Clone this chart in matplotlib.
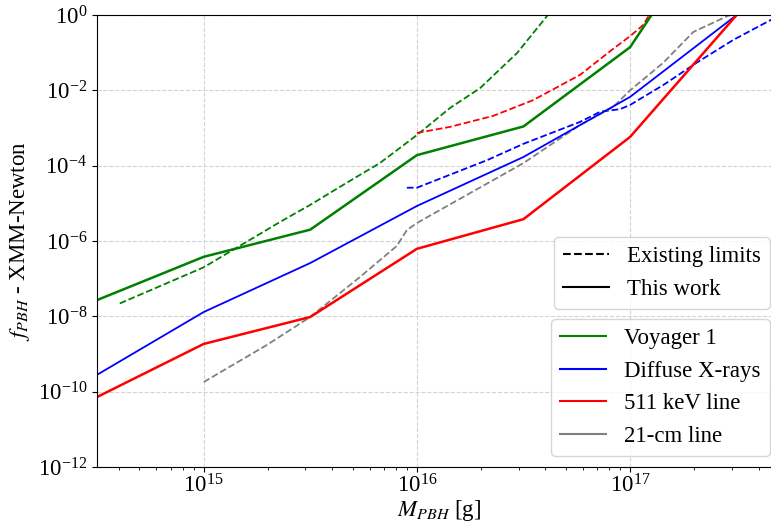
import matplotlib
matplotlib.use("Agg")
import matplotlib.pyplot as plt
from matplotlib.lines import Line2D
import numpy as np

plt.rcParams['font.family'] = ['Liberation Serif', 'DejaVu Serif']
plt.rcParams['mathtext.fontset'] = 'stix'

# This work (solid lines)
M_work = [3.16e14, 1.0e15, 3.16e15, 1.0e16, 3.16e16, 1.0e17, 3.16e17]
f_voyager = [2.7e-8, 3.8e-7, 2.0e-6, 1.9e-4, 1.1e-3, 0.14, 2.5e3]
f_xray = [2.8e-10, 1.3e-8, 2.6e-7, 8.5e-6, 1.7e-4, 6.7e-3, 1.0]
f_511 = [7.2e-11, 1.85e-9, 9.6e-9, 6.2e-7, 3.8e-6, 5.8e-4, 1.0]

# Existing limits (dashed lines)
M_voyager_old = [4.04e14, 1.0e15, 2.28e15, 3.16e15, 4.68e15, 6.70e15, 1.0e16,
                 1.43e16, 1.98e16, 2.95e16, 4.07e16, 5.0e16]
f_voyager_old = [2.2e-8, 2.0e-7, 3.2e-6, 9.1e-6, 3.5e-5, 1.17e-4, 6.5e-4,
                 3.4e-3, 1.15e-2, 9.8e-2, 0.93, 4.5]

M_511_old = [1.0e16, 1.43e16, 2.28e16, 3.51e16, 5.82e16, 8.32e16, 1.0e17,
             1.15e17, 1.22e17]
f_511_old = [7.4e-4, 1.07e-3, 2.1e-3, 5.5e-3, 2.57e-2, 0.126, 0.275, 0.54, 0.93]

M_xray_old = [8.97e15, 1.0e16, 2.14e16, 3.16e16, 5.82e16, 7.24e16, 8.97e16,
              1.0e17, 1.43e17, 2.07e17, 3.05e17, 4.57e17, 5.1e17]
f_xray_old = [2.6e-5, 2.6e-5, 1.41e-4, 3.8e-4, 1.45e-3, 2.7e-3, 3.16e-3,
              4.1e-3, 1.38e-2, 5.6e-2, 0.219, 0.74, 0.98]

M_21cm = [1.0e15, 1.98e15, 3.15e15, 5.40e15, 8.05e15, 8.97e15, 1.0e16,
          1.28e16, 3.16e16, 5.82e16, 8.32e16, 1.0e17, 1.43e17, 1.98e17,
          2.85e17, 3.16e17]
f_21cm = [1.8e-10, 1.74e-9, 9.5e-9, 1.1e-7, 7.4e-7, 1.95e-6, 3.0e-6,
          6.6e-6, 1.17e-4, 1.2e-3, 3.6e-3, 1.0e-2, 5.4e-2, 0.355, 0.93, 1.12]

xlim = (3.16e14, 5.1e17)
ylim = (1e-12, 1.0)
yticks = [1e-12, 1e-10, 1e-8, 1e-6, 1e-4, 1e-2, 1.0]

W, H = 771, 525
fig = plt.figure(figsize=(W / 100, H / 100), dpi=100)
ax = fig.add_axes([97 / W, (H - 467) / H, (781 - 97) / W, (467 - 15) / H])

ax.plot(M_voyager_old, f_voyager_old, color='green', ls='--', lw=1.3)
ax.plot(M_511_old, f_511_old, color='red', ls='--', lw=1.3)
ax.plot(M_xray_old, f_xray_old, color='blue', ls='--', lw=1.3)
ax.plot(M_21cm, f_21cm, color='gray', ls='--', lw=1.3)

ax.plot(M_work, f_voyager, color='green', lw=1.8)
ax.plot(M_work, f_xray, color='blue', lw=1.3)
ax.plot(M_work, f_511, color='red', lw=1.8)

ax.set_xscale('log')
ax.set_yscale('log')
ax.set_xlim(*xlim)
ax.set_ylim(*ylim)
ax.set_yticks(yticks)
ax.yaxis.set_minor_locator(matplotlib.ticker.NullLocator())
ax.grid(True, which='major', ls='--', color='#d3d3d3', lw=0.8)
ax.tick_params(labelsize=16.5)
ax.tick_params(axis='x', which='major', pad=2)
ax.spines['right'].set_visible(False)

ax.set_xlabel(r'$M_{PBH}$ [g]', fontsize=16.5, labelpad=0)
ax.set_ylabel(r'$f_{PBH}$ - XMM-Newton', fontsize=16.5, labelpad=4)

h1 = [Line2D([], [], color='black', ls='--', lw=1.5),
      Line2D([], [], color='black', lw=1.5)]
leg1 = ax.legend(h1, ['Existing limits', 'This work'], loc='lower right',
                 bbox_to_anchor=(0.9839, 0.3496), borderaxespad=0,
                 fontsize=16.5, labelspacing=0.5)
ax.add_artist(leg1)
h2 = [Line2D([], [], color=c, lw=1.5) for c in ['green', 'blue', 'red', 'gray']]
ax.legend(h2, ['Voyager 1', 'Diffuse X-rays', '511 keV line', '21-cm line'],
          loc='lower right', bbox_to_anchor=(0.9839, 0.0243), borderaxespad=0,
          fontsize=16.5, labelspacing=0.5)

fig.savefig('out.png', dpi=100)
